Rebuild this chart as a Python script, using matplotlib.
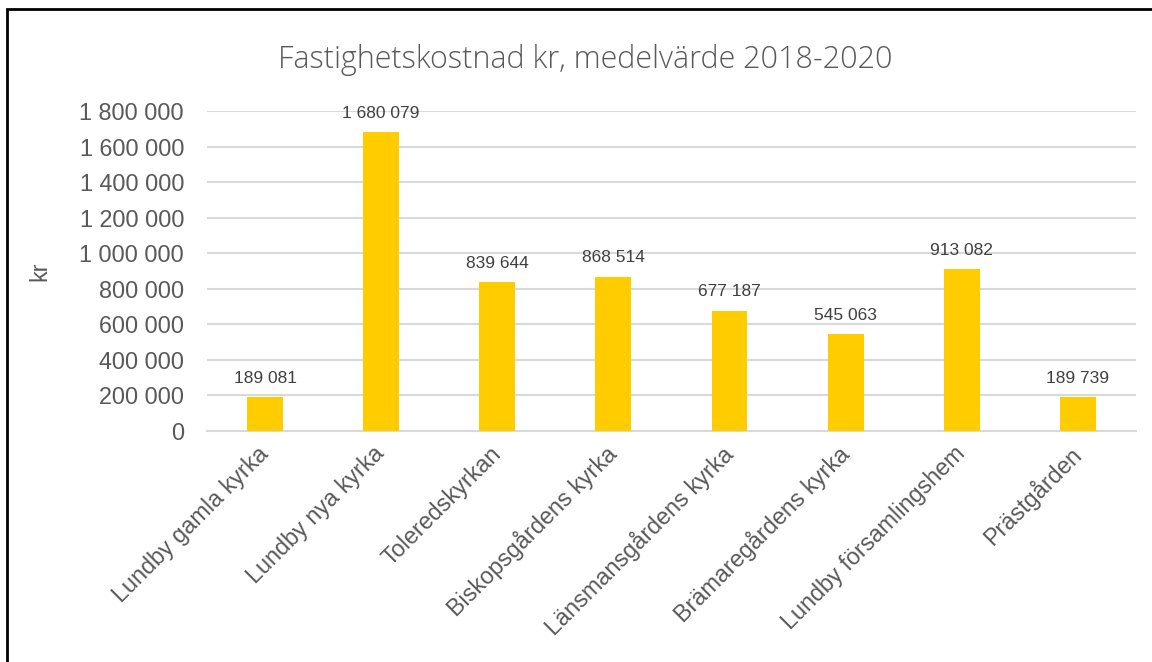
import matplotlib.pyplot as plt
from matplotlib.patches import Rectangle
from matplotlib.ticker import FuncFormatter

plt.rcParams['font.family'] = ['Liberation Sans', 'DejaVu Sans']

categories = ["Lundby gamla kyrka", "Lundby nya kyrka", "Toleredskyrkan",
              "Biskopsgårdens kyrka", "Länsmansgårdens kyrka",
              "Brämaregårdens kyrka", "Lundby församlingshem", "Prästgården"]
values = [189081, 1680079, 839644, 868514, 677187, 545063, 913082, 189739]
y_ticks = [0, 200000, 400000, 600000, 800000, 1000000, 1200000,
           1400000, 1600000, 1800000]


def space_thousands(v, pos=None):
    return "{:,.0f}".format(v).replace(",", " ")


fig = plt.figure(figsize=(11.52, 6.62), dpi=100)
ax = fig.add_axes([0.1797, 0.349, 0.8063, 0.4833])

x = list(range(len(categories)))
bars = ax.bar(x, values, width=0.31, color="#FFCC00", zorder=3)

for xi, v in zip(x, values):
    ax.annotate(space_thousands(v), (xi, v), xytext=(0, 8),
                textcoords="offset points", ha="center", va="bottom",
                fontsize=12.5, color="#404040")

ax.set_xlim(-0.5, len(categories) - 0.5)
ax.set_ylim(0, 1800000)
ax.set_yticks(y_ticks)
ax.yaxis.set_major_formatter(FuncFormatter(space_thousands))
ax.grid(axis="y", color="#d9d9d9", linewidth=1.5, zorder=0)
for side in ["top", "right", "left"]:
    ax.spines[side].set_visible(False)
ax.spines["bottom"].set_color("#d9d9d9")
ax.spines["bottom"].set_linewidth(1.5)
ax.tick_params(axis="both", length=0, labelsize=16.8, colors="#595959")
ax.tick_params(axis="y", pad=16.5)
ax.set_xticks(x)
ax.set_xticklabels(categories, rotation=45, ha="right", va="center",
                   rotation_mode="anchor")
ax.tick_params(axis="x", pad=14)
ax.set_ylabel("kr", fontsize=16.8, color="#595959", labelpad=20)

fig.text(0.508, 0.909, "Fastighetskostnad kr, medelvärde 2018-2020",
         ha="center", va="center", fontsize=22, color="#595959",
         family=["Open Sans", "DejaVu Sans"], fontweight="light")

# ram runt hela diagrammet
fig.patches.append(Rectangle((7 / 1152, -0.05), 1.1, 1 - 9 / 662 + 0.05,
                             transform=fig.transFigure, fill=False,
                             edgecolor="black", linewidth=2))

plt.savefig("out.png", dpi=100)
